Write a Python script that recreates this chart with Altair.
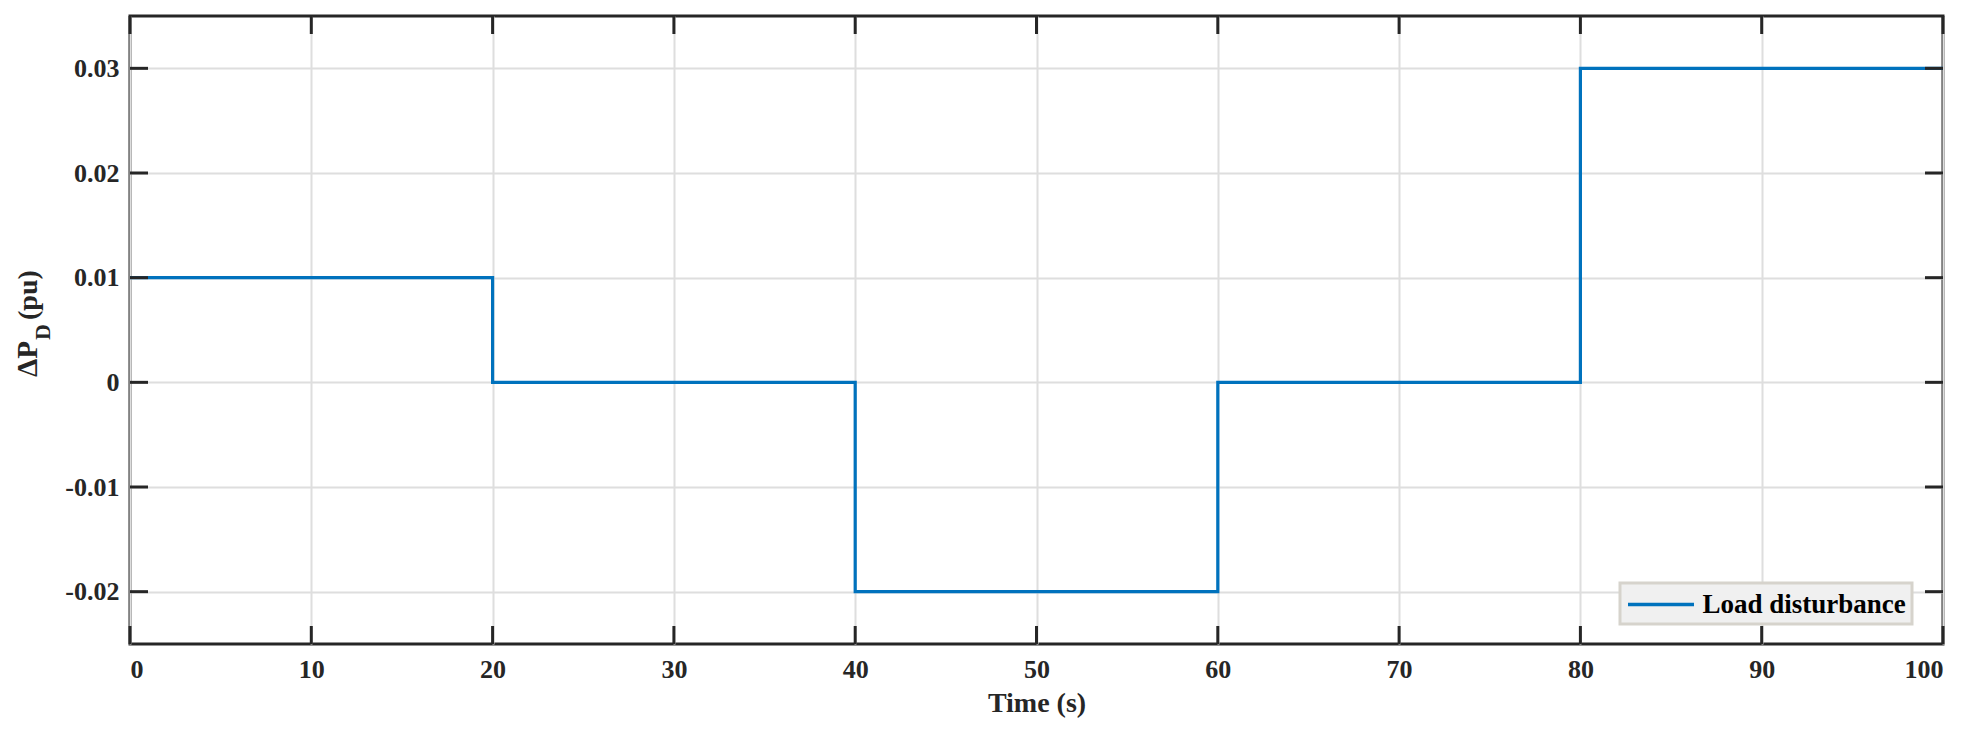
import altair as alt
import pandas as pd

# Data
t_steps = [0, 20, 40, 60, 80, 100]
dp_values = [0.01, 0.0, -0.02, 0.0, 0.03, 0.03]
series_name = "Load disturbance"

x_ticks = [0, 10, 20, 30, 40, 50, 60, 70, 80, 90, 100]
y_ticks = [-0.02, -0.01, 0.0, 0.01, 0.02, 0.03]

W, H = 1813, 628
FONT = "Liberation Serif"
BLUE = "#0072BD"
DARK = "#262626"
TICK_LEN = 18

df = pd.DataFrame({"t": t_steps, "dp": dp_values, "series": [series_name] * len(t_steps)})
xt = pd.DataFrame({"t": x_ticks})
yt = pd.DataFrame({"v": y_ticks})

xscale = alt.Scale(domain=[0, 100], nice=False, zero=False)
yscale = alt.Scale(domain=[-0.025, 0.035], nice=False, zero=False)

ylabel_expr = ("datum.value == 0 ? '0' : (datum.value < 0 ? '-' + format(-datum.value, '.2f') "
               ": format(datum.value, '.2f'))")

line = alt.Chart(df).mark_line(interpolate="step-after", strokeWidth=3.2, clip=True).encode(
    x=alt.X("t:Q", scale=xscale,
            axis=alt.Axis(values=x_ticks, title="Time (s)", grid=True, ticks=False, domain=False,
                          labelPadding=12, titlePadding=7, format="d")),
    y=alt.Y("dp:Q", scale=yscale,
            axis=alt.Axis(values=y_ticks, title=None, grid=True, ticks=False, domain=False,
                          labelPadding=11, labelExpr=ylabel_expr)),
    color=alt.Color("series:N",
                    scale=alt.Scale(domain=[series_name], range=[BLUE]),
                    legend=alt.Legend(title=None, orient="none", legendX=1490, legendY=567,
                                      symbolType="M-2.444,0H2.444", symbolSize=729,
                                      symbolStrokeWidth=3.5, symbolOffset=19.5,
                                      labelFont=FONT, labelFontSize=27, labelFontWeight="bold",
                                      labelColor="black", labelOffset=26, labelLimit=0,
                                      padding=6,
                                      fillColor="#f0f0f0", strokeColor="#d6d3cc")),
)

tick_style = dict(color=DARK, strokeWidth=3)
bottom_ticks = alt.Chart(xt).mark_rule(**tick_style).encode(
    x=alt.X("t:Q", scale=xscale), y=alt.value(H), y2=alt.value(H - TICK_LEN))
top_ticks = alt.Chart(xt).mark_rule(**tick_style).encode(
    x=alt.X("t:Q", scale=xscale), y=alt.value(0), y2=alt.value(TICK_LEN))
left_ticks = alt.Chart(yt).mark_rule(**tick_style).encode(
    y=alt.Y("v:Q", scale=yscale), x=alt.value(0), x2=alt.value(TICK_LEN))
right_ticks = alt.Chart(yt).mark_rule(**tick_style).encode(
    y=alt.Y("v:Q", scale=yscale), x=alt.value(W), x2=alt.value(W - TICK_LEN))

# Y-axis title with subscript: ΔP_D (pu)
title_df = pd.DataFrame({"a": [0]})
title_main = alt.Chart(title_df).mark_text(
    text="ΔP", angle=270, align="left", baseline="alphabetic",
    font=FONT, fontSize=29, fontWeight="bold", color=DARK
).encode(x=alt.value(-93), y=alt.value(361))
title_sub = alt.Chart(title_df).mark_text(
    text="D", angle=270, align="left", baseline="alphabetic",
    font=FONT, fontSize=22, fontWeight="bold", color=DARK
).encode(x=alt.value(-80), y=alt.value(324))
title_rest = alt.Chart(title_df).mark_text(
    text="(pu)", angle=270, align="left", baseline="alphabetic",
    font=FONT, fontSize=28, fontWeight="bold", color=DARK
).encode(x=alt.value(-93), y=alt.value(304))

chart = alt.layer(
    line, bottom_ticks, top_ticks, left_ticks, right_ticks, title_main, title_sub, title_rest
).properties(
    width=W, height=H,
    autosize=alt.AutoSizeParams(type="none"),
    padding={"left": 122, "top": 8, "right": 28, "bottom": 88},
    background="white",
).configure_view(
    stroke=DARK, strokeWidth=3
).configure_axis(
    labelFont=FONT, labelFontSize=26, labelFontWeight="bold", labelColor=DARK,
    titleFont=FONT, titleFontSize=28, titleFontWeight="bold", titleColor=DARK,
    gridColor="#dedede", gridWidth=2, gridOpacity=1,
).configure_legend(
    strokeWidth=3, cornerRadius=0
)

chart.save("out.html", embed_options={"renderer": "svg", "actions": False})
